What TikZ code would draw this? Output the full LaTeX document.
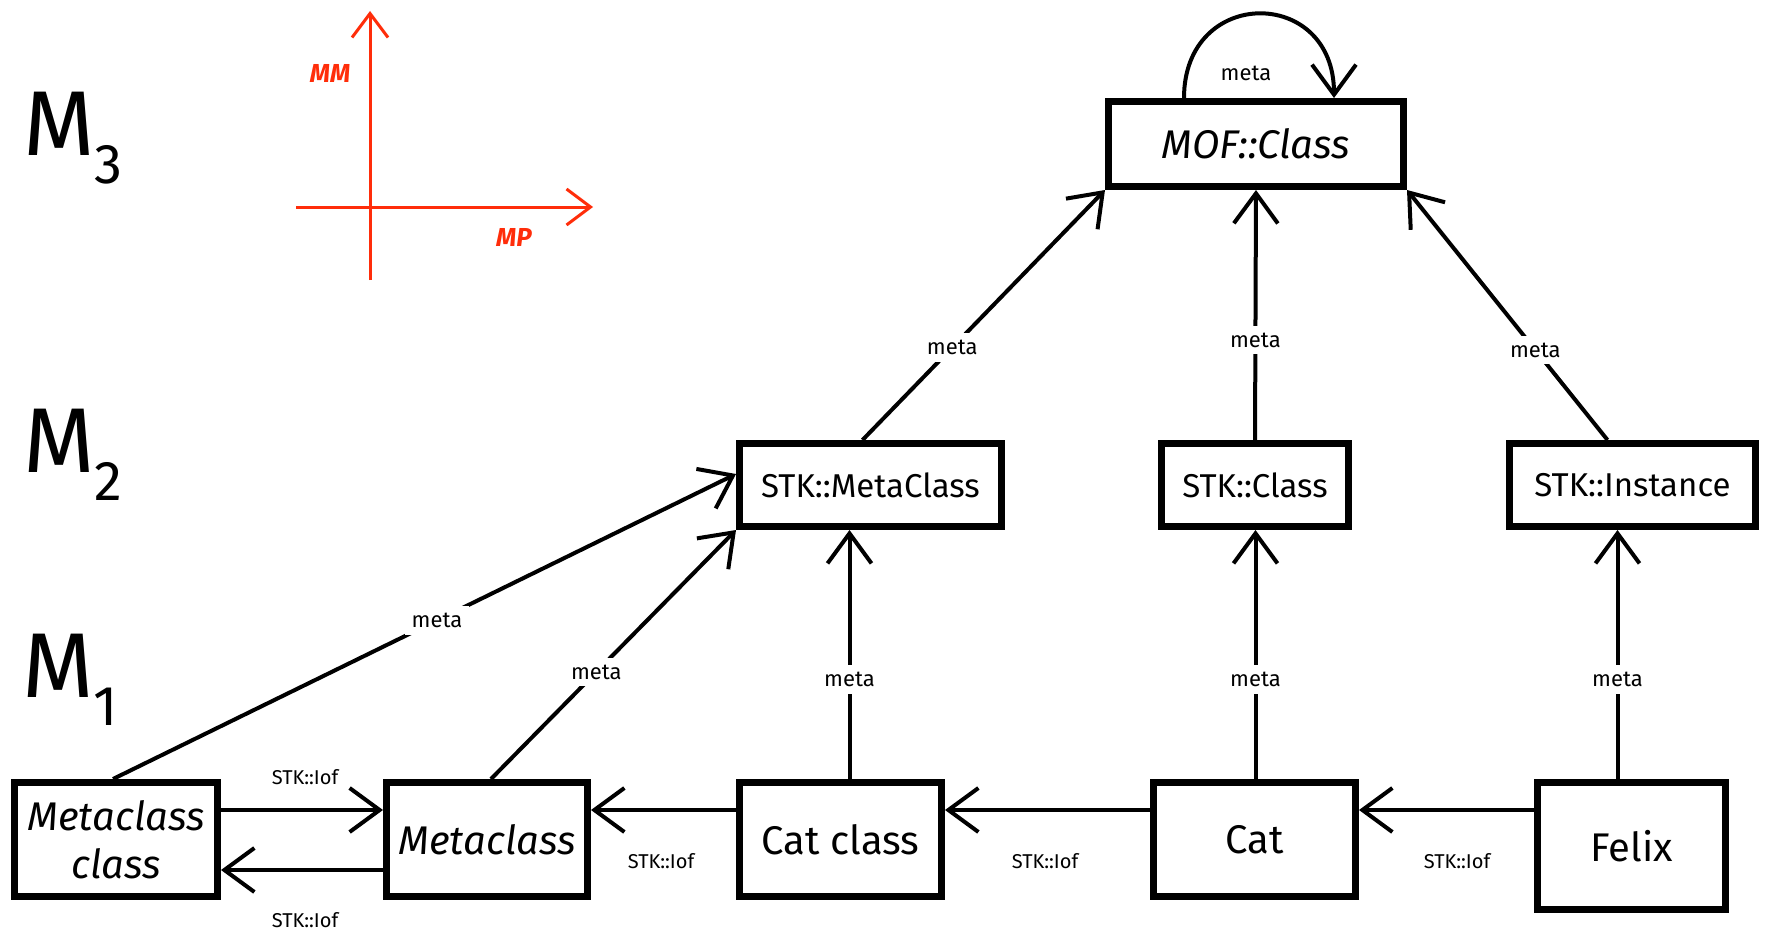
\documentclass[tikz,border=0pt]{standalone}
\usepackage{fontspec}
\setmainfont{Fira Sans}
\usetikzlibrary{arrows.meta}
\definecolor{axisred}{RGB}{255,45,10}
\tikzset{
  box/.style={draw, line width=7pt, inner sep=0pt, align=center},
  bigbox/.style={box, font=\fontsize{40}{48}\selectfont},
  stkbox/.style={box, font=\fontsize{33}{36}\selectfont},
  arr/.style={line width=4pt, -{Straight Barb[length=30pt,width=44pt]}},
  redarr/.style={draw=axisred, line width=3pt, -{Straight Barb[length=24pt,width=36pt]}},
  lbl/.style={fill=white, inner sep=7pt, font=\fontsize{22}{24}\selectfont},
  iof/.style={inner sep=0pt, font=\fontsize{20}{22}\selectfont},
  level/.style={inner sep=0pt, font=\fontsize{92}{92}\selectfont},
  axislbl/.style={inner sep=0pt, text=axisred, font=\fontsize{26}{28}\selectfont\bfseries\itshape}
}
\newcommand{\lev}[1]{M\raisebox{-0.3em}{\fontsize{56}{56}\selectfont #1}}
\begin{document}
\begin{tikzpicture}[x=1pt,y=-1pt]
\useasboundingbox (0,0) rectangle (1771,931);
\fill[white] (0,0) rectangle (1771,931);

% level labels
\node[level] (m3) at (73,138) {\lev{3}};
\node[level] (m2) at (73,455) {\lev{2}};
\node[level] (m1) at (70,680) {\lev{1}};

% meta axes
\coordinate (ox) at (296,207);
\coordinate (ex) at (593,207);
\coordinate (oy) at (370,280);
\coordinate (ey) at (370,11);
\draw[redarr] (ox) -- (ex);
\draw[redarr] (oy) -- (ey);
\node[axislbl] (mm) at (330,73) {MM};
\node[axislbl] (mp) at (514,237) {MP};

% M3
\node[bigbox, minimum width=295pt, minimum height=85pt] (mof) at (1256,144) {\itshape MOF::Class};

% M2
\node[stkbox, minimum width=262pt, minimum height=83pt] (smc) at (870.5,485) {STK::MetaClass};
\node[stkbox, minimum width=187pt, minimum height=83pt] (scl) at (1255,485) {STK::Class};
\node[stkbox, minimum width=246pt, minimum height=83pt] (sin) at (1632.5,485) {STK::Instance};

% M1
\node[bigbox, minimum width=203pt, minimum height=114pt] (mcc) at (116,839.5) {\itshape Metaclass\\\itshape class};
\node[bigbox, minimum width=201pt, minimum height=114pt] (mc) at (487,839.5) {\itshape Metaclass};
\node[bigbox, minimum width=202pt, minimum height=114pt] (cc) at (840.5,839.5) {Cat class};
\node[bigbox, minimum width=202pt, minimum height=114pt] (cat) at (1254.5,839.5) {Cat};
\node[bigbox, minimum width=188pt, minimum height=127pt] (felix) at (1631.5,846) {Felix};

% self loop on MOF::Class
\draw[arr] ([xshift=-72pt]mof.north) .. controls +(0,-112) and +(0,-112) .. ([xshift=78pt]mof.north);
\node[lbl, fill=none] (loopl) at (1246,73) {meta};

% meta links M2 -> M3
\draw[arr] ([xshift=-8pt]smc.north) -- (mof.south west) node[lbl, pos=0.37] {meta};
\draw[arr] (scl.north) -- (mof.south) node[lbl, pos=0.4] {meta};
\draw[arr] ([xshift=-25pt]sin.north) -- (mof.south east) node[lbl, pos=0.36] {meta};

% meta links M1 -> M2
\draw[arr] ([xshift=-3pt]mcc.north) -- ([yshift=11pt]smc.west) node[lbl, pos=0.52] {meta};
\draw[arr] ([xshift=4pt]mc.north) -- (smc.south west) node[lbl, pos=0.43] {meta};
\draw[arr] ([xshift=9pt]cc.north) -- ([xshift=9pt]cc.north |- smc.south) node[lbl, pos=0.4] {meta};
\draw[arr] ([xshift=1pt]cat.north) -- ([xshift=1pt]cat.north |- scl.south) node[lbl, pos=0.4] {meta};
\draw[arr] ([xshift=-14pt]felix.north) -- ([xshift=-14pt]felix.north |- sin.south) node[lbl, pos=0.4] {meta};

% instance-of links
\draw[arr] ([yshift=-31pt]felix.north west) -- ([yshift=-31pt]cat.north east);
\draw[arr] ([yshift=-31pt]cat.north west) -- ([yshift=-31pt]cc.north east);
\draw[arr] ([yshift=-31pt]cc.north west) -- ([yshift=-31pt]mc.north east);
\draw[arr] ([yshift=-31pt]mcc.north east) -- ([yshift=-31pt]mc.north west);
\draw[arr] ([yshift=30pt]mc.south west) -- ([yshift=30pt]mcc.south east);
\node[iof] (i1) at (1457,861) {STK::Iof};
\node[iof] (i2) at (1045,861) {STK::Iof};
\node[iof] (i3) at (661,861) {STK::Iof};
\node[iof] (i4) at (305,777) {STK::Iof};
\node[iof] (i5) at (305,920) {STK::Iof};
\end{tikzpicture}
\end{document}
